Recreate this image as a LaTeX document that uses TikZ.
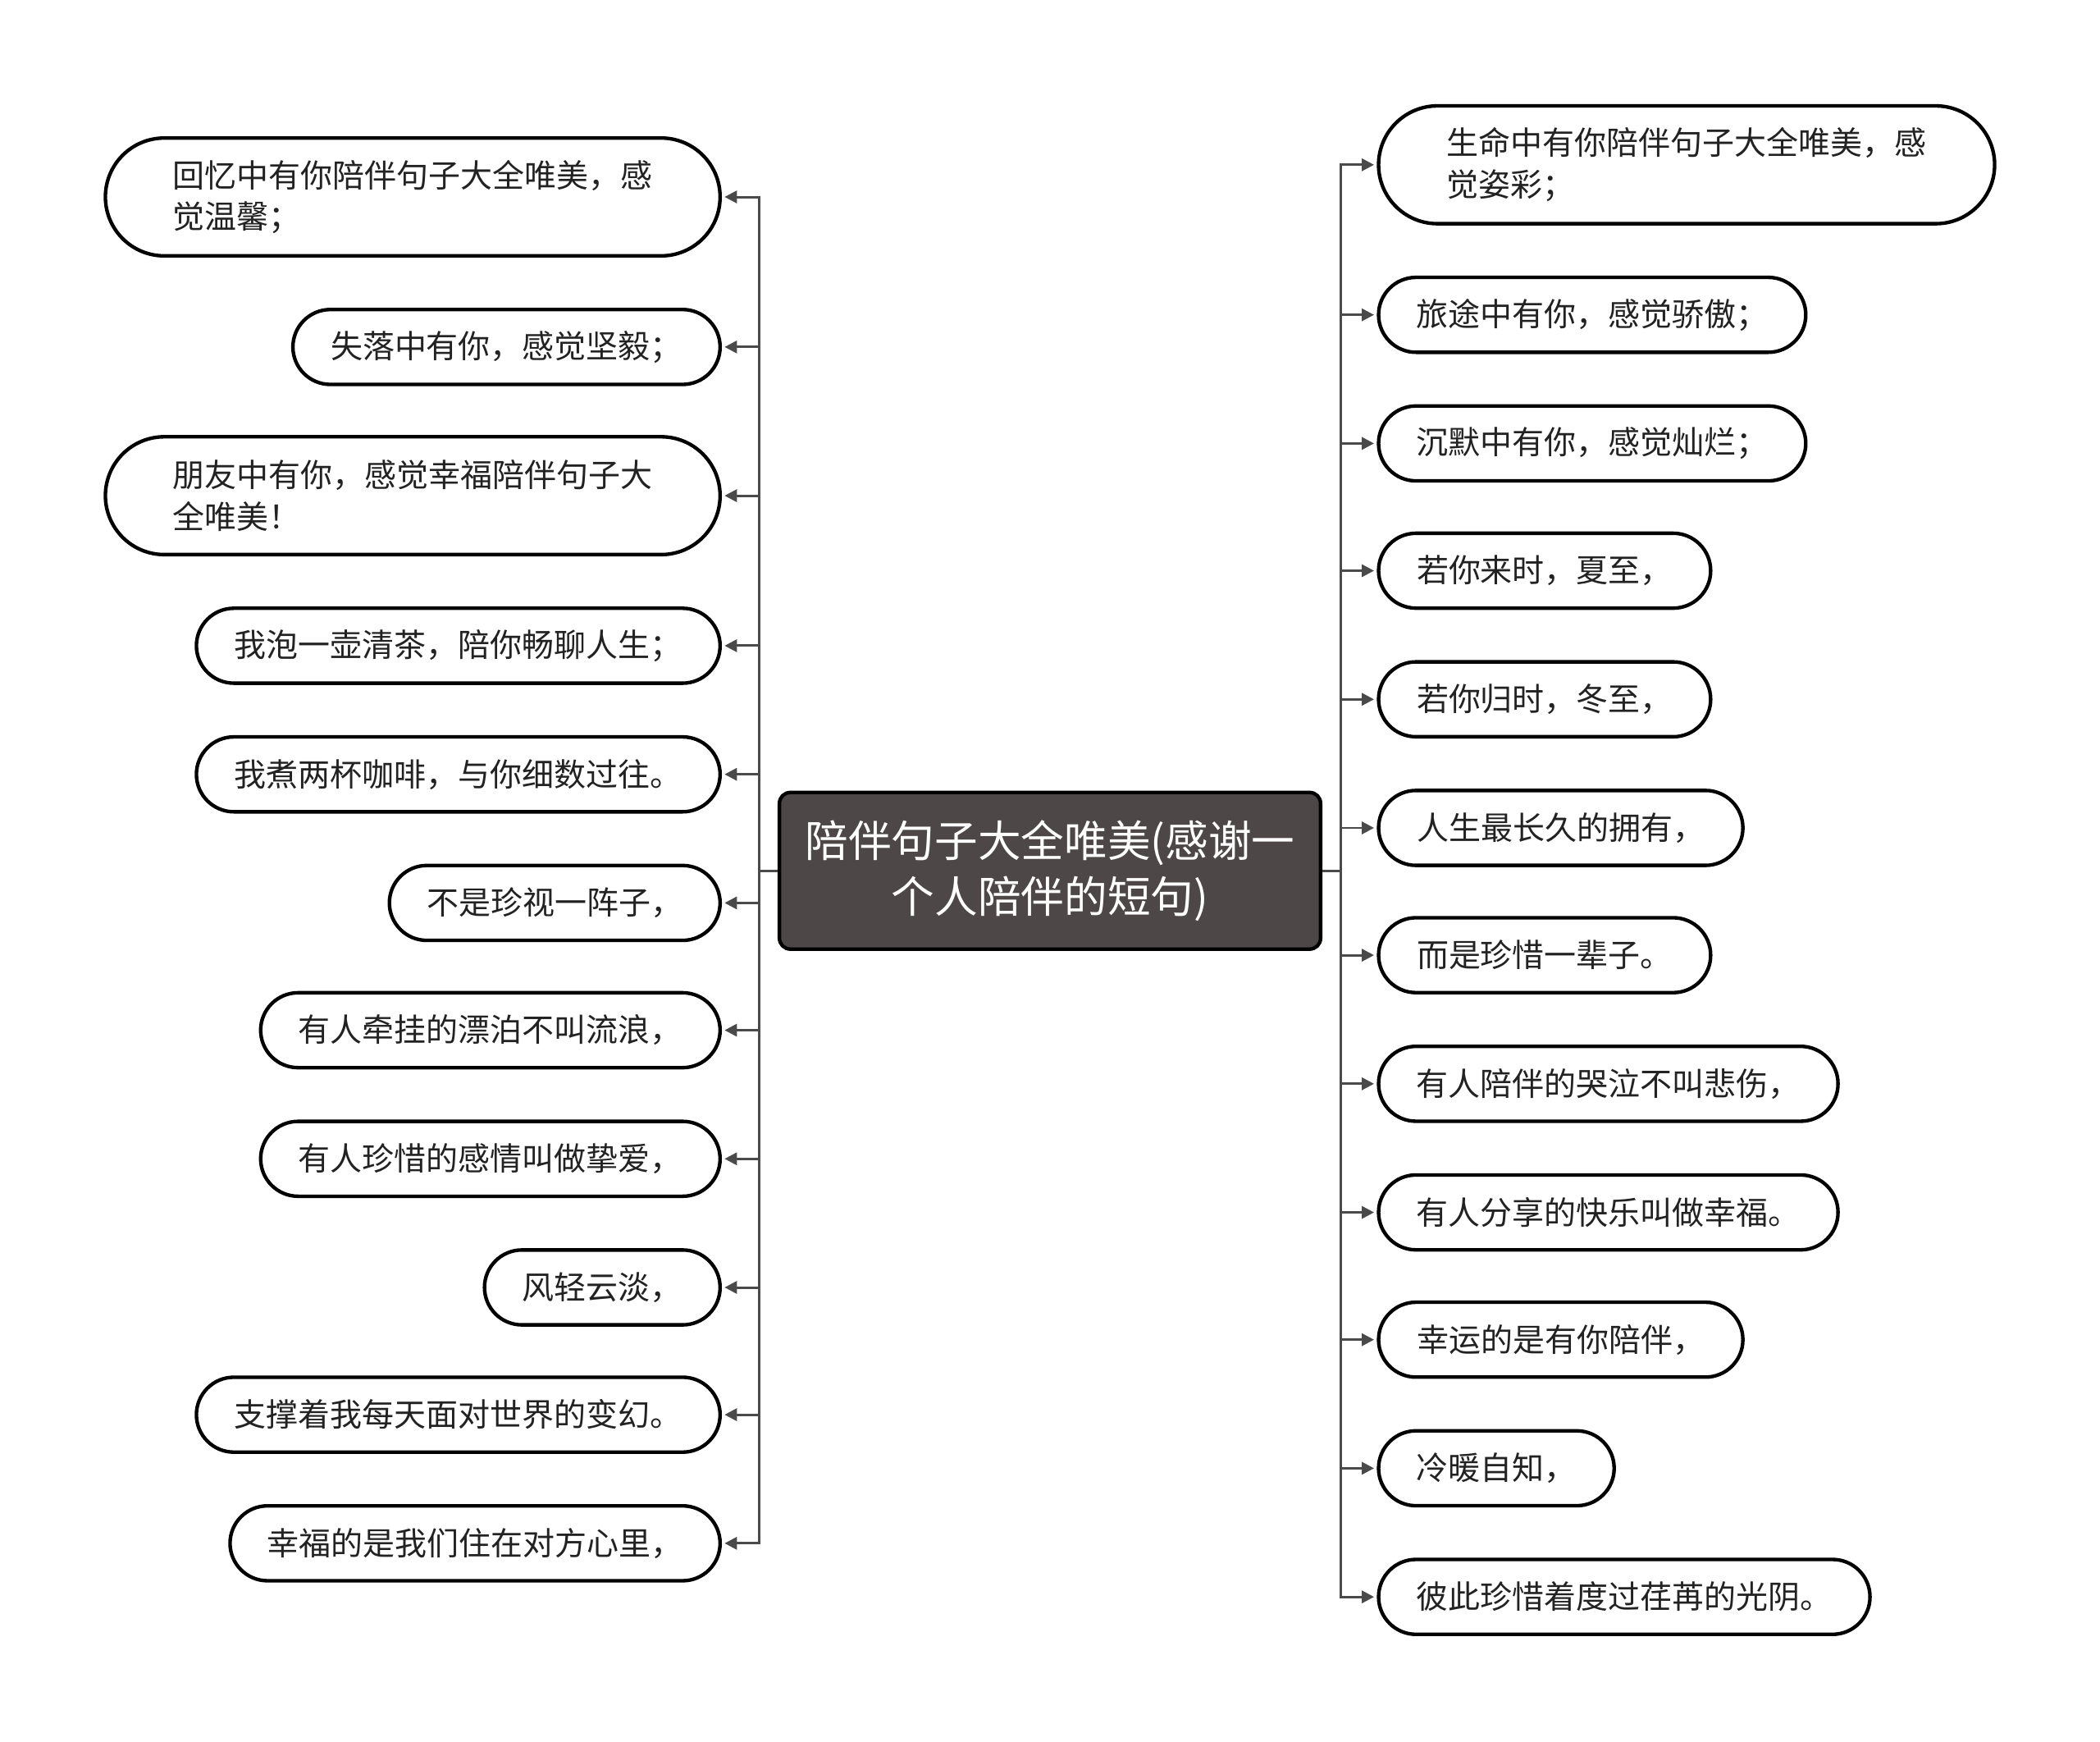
\documentclass[tikz,border=0pt]{standalone}
\usepackage{fontspec}
\setmainfont{Noto Sans CJK SC}
\usetikzlibrary{arrows.meta,shapes.misc}
\definecolor{titlefill}{HTML}{4D4748}
\definecolor{linkgray}{HTML}{4A4A4A}
\definecolor{inktext}{HTML}{222222}
\tikzset{
  leaf/.style={rounded rectangle,draw=black,line width=1.3pt,fill=white,
    text=inktext,inner xsep=0pt,inner ysep=0pt,minimum height=27.4pt,
    font=\fontsize{11.7pt}{15.2pt}\selectfont,align=left},
  leaftwo/.style={leaf,minimum height=43.1pt},
  title/.style={rectangle,rounded corners=4pt,draw=black,line width=1.3pt,
    fill=titlefill,text=white,minimum width=198pt,minimum height=57.3pt,
    font=\fontsize{15.8pt}{20.6pt}\selectfont,align=center},
  link/.style={draw=linkgray,line width=0.9pt,
    -{Triangle[length=4.5pt,width=4.5pt]},shorten >=1pt}
}
\begin{document}
\begin{tikzpicture}[x=0.49pt,y=-0.49pt]
\useasboundingbox[fill=white] (0,0) rectangle (1568,1300);
% centre
\node[title] (c) at (784,650) {陪伴句子大全唯美(感谢一\\个人陪伴的短句)};
\coordinate (lj) at (567,650);
\coordinate (rj) at (1001,650);
% left side
\node[leaftwo,minimum width=224.9pt,anchor=east] (l1) at (539,147) {回忆中有你陪伴句子大全唯美，感\\觉温馨；\hspace*{10pt}};
\node[leaf,minimum width=156.3pt,anchor=east] (l2) at (539,259) {失落中有你，感觉坚毅；};
\node[leaftwo,minimum width=224.9pt,anchor=east] (l3) at (539,370) {朋友中有你，感觉幸福陪伴句子大\\全唯美！\hspace*{10pt}};
\node[leaf,minimum width=191.6pt,anchor=east] (l4) at (539,482) {我泡一壶清茶，陪你畅聊人生；};
\node[leaf,minimum width=191.6pt,anchor=east] (l5) at (539,578) {我煮两杯咖啡，与你细数过往。};
\node[leaf,minimum width=121.0pt,anchor=east] (l6) at (539,674) {不是珍视一阵子，};
\node[leaf,minimum width=168.1pt,anchor=east] (l7) at (539,769) {有人牵挂的漂泊不叫流浪，};
\node[leaf,minimum width=168.1pt,anchor=east] (l8) at (539,865) {有人珍惜的感情叫做挚爱，};
\node[leaf,minimum width=86.2pt,anchor=east] (l9) at (539,961) {风轻云淡，};
\node[leaf,minimum width=191.6pt,anchor=east] (l10) at (539,1056) {支撑着我每天面对世界的变幻。};
\node[leaf,minimum width=179.3pt,anchor=east] (l11) at (539,1152) {幸福的是我们住在对方心里，};
% right side
\node[leaftwo,minimum width=225.4pt,anchor=west] (r1) at (1028,123) {生命中有你陪伴句子大全唯美，感\\觉姿彩；};
\node[leaf,minimum width=156.3pt,anchor=west] (r2) at (1028,235) {旅途中有你，感觉骄傲；};
\node[leaf,minimum width=156.3pt,anchor=west] (r3) at (1028,331) {沉默中有你，感觉灿烂；};
\node[leaf,minimum width=121.5pt,anchor=west] (r4) at (1028,426) {若你来时，夏至，};
\node[leaf,minimum width=121.5pt,anchor=west] (r5) at (1028,522) {若你归时，冬至，};
\node[leaf,minimum width=133.3pt,anchor=west] (r6) at (1028,618) {人生最长久的拥有，};
\node[leaf,minimum width=121.5pt,anchor=west] (r7) at (1028,713) {而是珍惜一辈子。};
\node[leaf,minimum width=168.1pt,anchor=west] (r8) at (1028,809) {有人陪伴的哭泣不叫悲伤，};
\node[leaf,minimum width=168.1pt,anchor=west] (r9) at (1028,905) {有人分享的快乐叫做幸福。};
\node[leaf,minimum width=133.3pt,anchor=west] (r10) at (1028,1000) {幸运的是有你陪伴，};
\node[leaf,minimum width=86.2pt,anchor=west] (r11) at (1028,1096) {冷暖自知，};
\node[leaf,minimum width=179.8pt,anchor=west] (r12) at (1028,1192) {彼此珍惜着度过荏苒的光阴。};
% links
\draw[draw=linkgray,line width=0.9pt] (c.west) -- (lj);
\draw[draw=linkgray,line width=0.9pt] (c.east) -- (rj);
\foreach \n in {1,...,11}
  \draw[link] (lj) |- (l\n.east);
\foreach \n in {1,...,12}
  \draw[link] (rj) |- (r\n.west);
\end{tikzpicture}
\end{document}
